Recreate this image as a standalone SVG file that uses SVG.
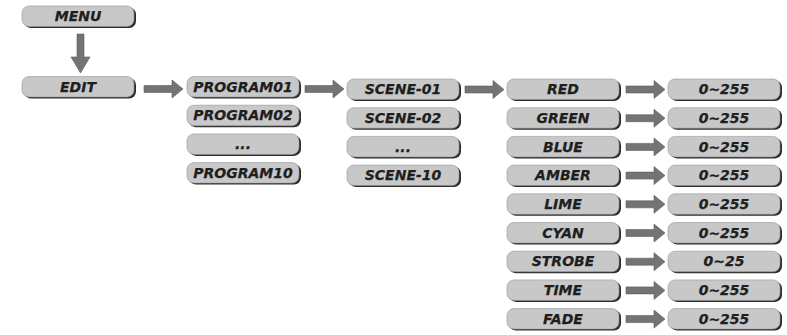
<svg xmlns="http://www.w3.org/2000/svg" width="787" height="335" viewBox="0 0 787 335">
<defs>
<style>
.sh{fill:#2b2b2b}
.bd{fill:#c8c8c8;stroke:#959595;stroke-width:0.6}
.t{font-family:"DejaVu Sans","Liberation Sans",sans-serif;font-weight:bold;font-style:italic;font-size:14px;fill:#1e1e1e;stroke:#1e1e1e;stroke-width:0.25;text-anchor:middle}
.ar{fill:#747474;stroke:#5a5a5a;stroke-width:0.6}
</style>
<path id="ha" d="M0,-3.5 H28 V-9 L39,0 L28,9 V3.5 H0 Z"/>
</defs>
<rect width="787" height="335" fill="#ffffff"/>

<g id="connectors" class="ar">
<path d="M77,34 H84 V57 H90 L80.5,73 L71,57 H77 Z"/>
<use href="#ha" x="144" y="89"/>
<use href="#ha" x="305" y="89"/>
<use href="#ha" x="465" y="89.5"/>
<use href="#ha" x="626" y="89.5"/>
<use href="#ha" x="626" y="118.2"/>
<use href="#ha" x="626" y="146.9"/>
<use href="#ha" x="626" y="175.6"/>
<use href="#ha" x="626" y="204.3"/>
<use href="#ha" x="626" y="233"/>
<use href="#ha" x="626" y="261.7"/>
<use href="#ha" x="626" y="290.4"/>
<use href="#ha" x="626" y="319.1"/>
</g>

<g id="menu"><rect class="sh" x="24" y="7.5" width="112" height="20.5" rx="7"/><rect class="bd" x="22" y="6" width="112" height="20.5" rx="7"/><text class="t" x="78" y="21.2">MENU</text></g>
<g id="edit"><rect class="sh" x="24" y="78" width="112" height="20.5" rx="7"/><rect class="bd" x="22" y="76.5" width="112" height="20.5" rx="7"/><text class="t" x="78" y="91.7">EDIT</text></g>

<g id="program01"><rect class="sh" x="189" y="78" width="112" height="20.5" rx="7"/><rect class="bd" x="187" y="76.5" width="112" height="20.5" rx="7"/><text class="t" x="243" y="91.7">PROGRAM01</text></g>
<g id="program02"><rect class="sh" x="189" y="106.7" width="112" height="20.5" rx="7"/><rect class="bd" x="187" y="105.2" width="112" height="20.5" rx="7"/><text class="t" x="243" y="120.4">PROGRAM02</text></g>
<g id="program-dots"><rect class="sh" x="189" y="135.4" width="112" height="20.5" rx="7"/><rect class="bd" x="187" y="133.9" width="112" height="20.5" rx="7"/><text class="t" x="243" y="149.1">...</text></g>
<g id="program10"><rect class="sh" x="189" y="164.1" width="112" height="20.5" rx="7"/><rect class="bd" x="187" y="162.6" width="112" height="20.5" rx="7"/><text class="t" x="243" y="177.8">PROGRAM10</text></g>

<g id="scene01"><rect class="sh" x="349" y="80.5" width="112" height="20.5" rx="7"/><rect class="bd" x="347" y="79" width="112" height="20.5" rx="7"/><text class="t" x="403" y="94.2">SCENE-01</text></g>
<g id="scene02"><rect class="sh" x="349" y="109.2" width="112" height="20.5" rx="7"/><rect class="bd" x="347" y="107.7" width="112" height="20.5" rx="7"/><text class="t" x="403" y="122.9">SCENE-02</text></g>
<g id="scene-dots"><rect class="sh" x="349" y="137.9" width="112" height="20.5" rx="7"/><rect class="bd" x="347" y="136.4" width="112" height="20.5" rx="7"/><text class="t" x="403" y="151.6">...</text></g>
<g id="scene10"><rect class="sh" x="349" y="166.6" width="112" height="20.5" rx="7"/><rect class="bd" x="347" y="165.1" width="112" height="20.5" rx="7"/><text class="t" x="403" y="180.3">SCENE-10</text></g>

<g id="red"><rect class="sh" x="509" y="80.5" width="112" height="20.5" rx="7"/><rect class="bd" x="507" y="79" width="112" height="20.5" rx="7"/><text class="t" x="563" y="94.2">RED</text></g>
<g id="green"><rect class="sh" x="509" y="109.2" width="112" height="20.5" rx="7"/><rect class="bd" x="507" y="107.7" width="112" height="20.5" rx="7"/><text class="t" x="563" y="122.9">GREEN</text></g>
<g id="blue"><rect class="sh" x="509" y="137.9" width="112" height="20.5" rx="7"/><rect class="bd" x="507" y="136.4" width="112" height="20.5" rx="7"/><text class="t" x="563" y="151.6">BLUE</text></g>
<g id="amber"><rect class="sh" x="509" y="166.6" width="112" height="20.5" rx="7"/><rect class="bd" x="507" y="165.1" width="112" height="20.5" rx="7"/><text class="t" x="563" y="180.3">AMBER</text></g>
<g id="lime"><rect class="sh" x="509" y="195.3" width="112" height="20.5" rx="7"/><rect class="bd" x="507" y="193.8" width="112" height="20.5" rx="7"/><text class="t" x="563" y="209">LIME</text></g>
<g id="cyan"><rect class="sh" x="509" y="224" width="112" height="20.5" rx="7"/><rect class="bd" x="507" y="222.5" width="112" height="20.5" rx="7"/><text class="t" x="563" y="237.7">CYAN</text></g>
<g id="strobe"><rect class="sh" x="509" y="252.7" width="112" height="20.5" rx="7"/><rect class="bd" x="507" y="251.2" width="112" height="20.5" rx="7"/><text class="t" x="563" y="266.4">STROBE</text></g>
<g id="time"><rect class="sh" x="509" y="281.4" width="112" height="20.5" rx="7"/><rect class="bd" x="507" y="279.9" width="112" height="20.5" rx="7"/><text class="t" x="563" y="295.1">TIME</text></g>
<g id="fade"><rect class="sh" x="509" y="310.1" width="112" height="20.5" rx="7"/><rect class="bd" x="507" y="308.6" width="112" height="20.5" rx="7"/><text class="t" x="563" y="323.8">FADE</text></g>

<g id="red-value"><rect class="sh" x="670" y="80.5" width="112" height="20.5" rx="7"/><rect class="bd" x="668" y="79" width="112" height="20.5" rx="7"/><text class="t" x="724" y="94.2">0~255</text></g>
<g id="green-value"><rect class="sh" x="670" y="109.2" width="112" height="20.5" rx="7"/><rect class="bd" x="668" y="107.7" width="112" height="20.5" rx="7"/><text class="t" x="724" y="122.9">0~255</text></g>
<g id="blue-value"><rect class="sh" x="670" y="137.9" width="112" height="20.5" rx="7"/><rect class="bd" x="668" y="136.4" width="112" height="20.5" rx="7"/><text class="t" x="724" y="151.6">0~255</text></g>
<g id="amber-value"><rect class="sh" x="670" y="166.6" width="112" height="20.5" rx="7"/><rect class="bd" x="668" y="165.1" width="112" height="20.5" rx="7"/><text class="t" x="724" y="180.3">0~255</text></g>
<g id="lime-value"><rect class="sh" x="670" y="195.3" width="112" height="20.5" rx="7"/><rect class="bd" x="668" y="193.8" width="112" height="20.5" rx="7"/><text class="t" x="724" y="209">0~255</text></g>
<g id="cyan-value"><rect class="sh" x="670" y="224" width="112" height="20.5" rx="7"/><rect class="bd" x="668" y="222.5" width="112" height="20.5" rx="7"/><text class="t" x="724" y="237.7">0~255</text></g>
<g id="strobe-value"><rect class="sh" x="670" y="252.7" width="112" height="20.5" rx="7"/><rect class="bd" x="668" y="251.2" width="112" height="20.5" rx="7"/><text class="t" x="724" y="266.4">0~25</text></g>
<g id="time-value"><rect class="sh" x="670" y="281.4" width="112" height="20.5" rx="7"/><rect class="bd" x="668" y="279.9" width="112" height="20.5" rx="7"/><text class="t" x="724" y="295.1">0~255</text></g>
<g id="fade-value"><rect class="sh" x="670" y="310.1" width="112" height="20.5" rx="7"/><rect class="bd" x="668" y="308.6" width="112" height="20.5" rx="7"/><text class="t" x="724" y="323.8">0~255</text></g>
</svg>
